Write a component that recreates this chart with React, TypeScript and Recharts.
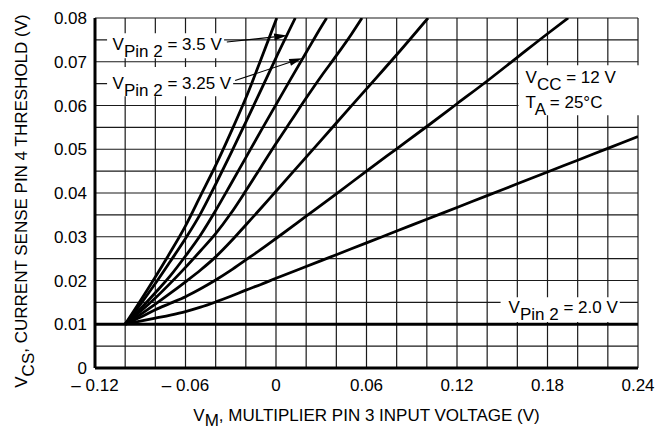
import React from 'react';
import {
  LineChart,
  Line,
  XAxis,
  YAxis,
  CartesianGrid,
  ReferenceArea,
  ReferenceLine,
} from 'recharts';

const FONT = '"Liberation Sans", Arial, Helvetica, sans-serif';
const FS = 17;

// VM (V) / VCS (V) per Pin 2 voltage
const vm375 = [-0.1, -0.09, -0.08, -0.07, -0.06, -0.05, -0.04, -0.03, -0.02, -0.01, 0.0005];
const vcs375 = [0.01, 0.0153, 0.0208, 0.0265, 0.0325, 0.0394, 0.0463, 0.0538, 0.0617, 0.0705, 0.08];

const vm350 = [-0.1, -0.09, -0.08, -0.07, -0.06, -0.05, -0.04, -0.03, -0.02, -0.01, 0, 0.0128];
const vcs350 = [0.01, 0.0145, 0.0193, 0.0244, 0.0296, 0.0353, 0.042, 0.049, 0.0562, 0.0635, 0.0709, 0.08];

const vm325 = [-0.1, -0.09, -0.08, -0.07, -0.06, -0.05, -0.04, -0.03, -0.02, -0.01, 0, 0.01, 0.02, 0.03, 0.0336];
const vcs325 = [0.01, 0.0135, 0.0172, 0.0211, 0.0256, 0.0304, 0.036, 0.042, 0.0481, 0.0542, 0.0602, 0.0662, 0.0721, 0.078, 0.08];

const vm300 = [-0.1, -0.09, -0.08, -0.07, -0.06, -0.05, -0.04, -0.03, -0.02, -0.01, 0, 0.01, 0.02, 0.03, 0.04, 0.05, 0.057];
const vcs300 = [0.01, 0.0129, 0.016, 0.0194, 0.023, 0.0268, 0.0307, 0.0353, 0.0405, 0.0459, 0.0513, 0.0565, 0.0617, 0.0667, 0.0714, 0.0763, 0.08];

const vm275 = [-0.1, -0.09, -0.08, -0.07, -0.06, -0.05, -0.04, -0.03, -0.02, -0.01, 0, 0.02, 0.04, 0.06, 0.08, 0.1008];
const vcs275 = [0.01, 0.0122, 0.0146, 0.0171, 0.0197, 0.0224, 0.0254, 0.0289, 0.0327, 0.0365, 0.0404, 0.0482, 0.056, 0.0638, 0.0716, 0.08];

const vm250 = [-0.1, -0.09, -0.08, -0.07, -0.06, -0.05, -0.04, -0.03, -0.02, -0.01, 0, 0.02, 0.04, 0.06, 0.08, 0.1, 0.12, 0.14, 0.16, 0.18, 0.1937];
const vcs250 = [0.01, 0.0116, 0.0133, 0.0148, 0.0163, 0.0181, 0.0201, 0.0223, 0.0247, 0.0271, 0.0296, 0.0347, 0.0398, 0.045, 0.0501, 0.0552, 0.0604, 0.0656, 0.071, 0.0764, 0.08];

const vm225 = [-0.1, -0.09, -0.08, -0.07, -0.06, -0.05, -0.04, -0.03, -0.02, -0.01, 0, 0.02, 0.04, 0.06, 0.08, 0.1, 0.12, 0.14, 0.16, 0.18, 0.2, 0.22, 0.24];
const vcs225 = [0.01, 0.0107, 0.0114, 0.0121, 0.0129, 0.0139, 0.0151, 0.0164, 0.0178, 0.0191, 0.0205, 0.0232, 0.0259, 0.0286, 0.0313, 0.034, 0.0367, 0.0394, 0.0421, 0.0448, 0.0475, 0.0502, 0.0529];

const vm200 = [-0.12, 0.24];
const vcs200 = [0.01, 0.01];

// grid every 0.02 V / 0.005 V, labels on a subset
const xTicks = [-0.12, -0.1, -0.08, -0.06, -0.04, -0.02, 0, 0.02, 0.04, 0.06, 0.08, 0.1, 0.12, 0.14, 0.16, 0.18, 0.2, 0.22, 0.24];
const xLabelValues = [-0.12, -0.06, 0, 0.06, 0.12, 0.18, 0.24];
const xLabels = ['\u2013 0.12', '\u2013 0.06', '0', '0.06', '0.12', '0.18', '0.24'];

const yTicks = [0, 0.005, 0.01, 0.015, 0.02, 0.025, 0.03, 0.035, 0.04, 0.045, 0.05, 0.055, 0.06, 0.065, 0.07, 0.075, 0.08];
const yLabelValues = [0, 0.01, 0.02, 0.03, 0.04, 0.05, 0.06, 0.07, 0.08];
const yLabels = ['0', '0.01', '0.02', '0.03', '0.04', '0.05', '0.06', '0.07', '0.08'];

const zip = (xs: number[], ys: number[]) => xs.map((vm, i) => ({ vm, vcs: ys[i] }));

const curves = [
  { key: '3.75', data: zip(vm375, vcs375) },
  { key: '3.5', data: zip(vm350, vcs350) },
  { key: '3.25', data: zip(vm325, vcs325) },
  { key: '3.0', data: zip(vm300, vcs300) },
  { key: '2.75', data: zip(vm275, vcs275) },
  { key: '2.5', data: zip(vm250, vcs250) },
  { key: '2.25', data: zip(vm225, vcs225) },
  { key: '2.0', data: zip(vm200, vcs200) },
];

const pickLabel = (v: number, values: number[], labels: string[]) => {
  const i = values.findIndex((t) => Math.abs(t - v) < 1e-6);
  return i >= 0 ? labels[i] : '';
};

type Part = { t: string; sub?: boolean };

function SubText({ x, y, parts, anchor, drop = 7 }: { x: number; y: number; parts: Part[]; anchor?: string; drop?: number }) {
  let down = false;
  return (
    <text x={x} y={y} fill="#000" fontSize={FS} fontFamily={FONT} textAnchor={anchor as any} style={{ whiteSpace: 'pre' }}>
      {parts.map((p, i) => {
        let dy = 0;
        if (p.sub && !down) { dy = drop; down = true; }
        else if (!p.sub && down) { dy = -drop; down = false; }
        return (
          <tspan key={i} dy={dy}>
            {p.t}
          </tspan>
        );
      })}
    </text>
  );
}

function BoxText(props: any) {
  const { viewBox, lines } = props;
  if (!viewBox) return null;
  return (
    <g>
      {lines.map((l: any, i: number) => (
        <SubText key={i} x={viewBox.x + l.dx} y={viewBox.y + l.dy} parts={l.parts} />
      ))}
    </g>
  );
}

function Arrow(props: any) {
  const { x1, y1, x2, y2 } = props;
  const dx = x2 - x1;
  const dy = y2 - y1;
  const len = Math.sqrt(dx * dx + dy * dy) || 1;
  const ux = dx / len;
  const uy = dy / len;
  const hl = 13;
  const hw = 3.5;
  const bx = x2 - ux * hl;
  const by = y2 - uy * hl;
  return (
    <g>
      <line x1={x1} y1={y1} x2={bx} y2={by} stroke="#000" strokeWidth={1.1} />
      <polygon
        points={`${x2},${y2} ${bx - uy * hw},${by + ux * hw} ${bx + uy * hw},${by - ux * hw}`}
        fill="#000"
      />
    </g>
  );
}

function XTitle(props: any) {
  const vb = props.viewBox;
  if (!vb) return null;
  return (
    <SubText
      x={vb.x + vb.width / 2}
      y={vb.y + 53}
      anchor="middle"
      drop={5}
      parts={[{ t: 'V' }, { t: 'M', sub: true }, { t: ', MULTIPLIER PIN 3 INPUT VOLTAGE (V)' }]}
    />
  );
}

function YTitle(props: any) {
  const vb = props.viewBox;
  if (!vb) return null;
  const cx = 27;
  const cy = vb.y + vb.height / 2 + 8;
  return (
    <g transform={`rotate(-90, ${cx}, ${cy})`}>
      <SubText
        x={cx}
        y={cy}
        anchor="middle"
        parts={[{ t: 'V' }, { t: 'CS', sub: true }, { t: ', CURRENT SENSE PIN 4 THRESHOLD (V)' }]}
      />
    </g>
  );
}

export default function App() {
  return (
    <div style={{ position: 'absolute', left: 0, top: 0, width: 669, height: 429, background: '#fff' }}>
      <LineChart width={669} height={429} margin={{ top: 18, right: 31, bottom: 0, left: 0 }}>
        <CartesianGrid stroke="#1a1a1a" strokeWidth={1.2} />
        <XAxis
          type="number"
          dataKey="vm"
          domain={[-0.12, 0.24]}
          ticks={xTicks}
          interval={0}
          allowDataOverflow
          height={61}
          tickLine={false}
          tickMargin={5}
          axisLine={{ stroke: '#000', strokeWidth: 3 }}
          tick={{ fill: '#000', fontSize: FS, fontFamily: FONT }}
          tickFormatter={(v: number) => pickLabel(v, xLabelValues, xLabels)}
          label={<XTitle />}
        />
        <YAxis
          type="number"
          dataKey="vcs"
          domain={[0, 0.08]}
          ticks={yTicks}
          interval={0}
          allowDataOverflow
          width={95}
          tickLine={false}
          axisLine={{ stroke: '#000', strokeWidth: 3 }}
          tick={{ fill: '#000', fontSize: FS, fontFamily: FONT }}
          tickFormatter={(v: number) => pickLabel(v, yLabelValues, yLabels)}
          label={<YTitle />}
        />
        <ReferenceArea x1={-0.112} x2={-0.0344} y1={0.0708} y2={0.0765} fill="#fff" fillOpacity={1} stroke="none" ifOverflow="visible"
          label={<BoxText lines={[{ dx: 5.5, dy: 17, parts: [{ t: 'V' }, { t: 'Pin 2', sub: true }, { t: ' = 3.5 V' }] }]} />} />
        <ReferenceArea x1={-0.112} x2={-0.0284} y1={0.0621} y2={0.0688} fill="#fff" fillOpacity={1} stroke="none" ifOverflow="visible"
          label={<BoxText lines={[{ dx: 5.5, dy: 21.5, parts: [{ t: 'V' }, { t: 'Pin 2', sub: true }, { t: ' = 3.25 V' }] }]} />} />
        <ReferenceArea x1={0.1608} x2={0.2413} y1={0.0578} y2={0.0692} fill="#fff" fillOpacity={1} stroke="none" ifOverflow="visible"
          label={<BoxText lines={[
            { dx: 7, dy: 18, parts: [{ t: 'V' }, { t: 'CC', sub: true }, { t: ' = 12 V' }] },
            { dx: 7, dy: 43, parts: [{ t: 'T' }, { t: 'A', sub: true }, { t: ' = 25\u00B0C' }] },
          ]} />} />
        <ReferenceArea x1={0.1489} x2={0.2279} y1={0.0105} y2={0.0162} fill="#fff" fillOpacity={1} stroke="none" ifOverflow="visible"
          label={<BoxText lines={[{ dx: 8, dy: 16, parts: [{ t: 'V' }, { t: 'Pin 2', sub: true }, { t: ' = 2.0 V' }] }]} />} />
        {curves.map((c) => (
          <Line
            key={c.key}
            data={c.data}
            dataKey="vcs"
            type="monotone"
            stroke="#000"
            strokeWidth={2.8}
            dot={false}
            activeDot={false}
            isAnimationActive={false}
          />
        ))}
        <ReferenceLine segment={[{ x: -0.0326, y: 0.0745 }, { x: 0.0074, y: 0.076 }]} shape={<Arrow />} />
        <ReferenceLine segment={[{ x: -0.0271, y: 0.0657 }, { x: 0.0174, y: 0.0708 }]} shape={<Arrow />} />
      </LineChart>
    </div>
  );
}
